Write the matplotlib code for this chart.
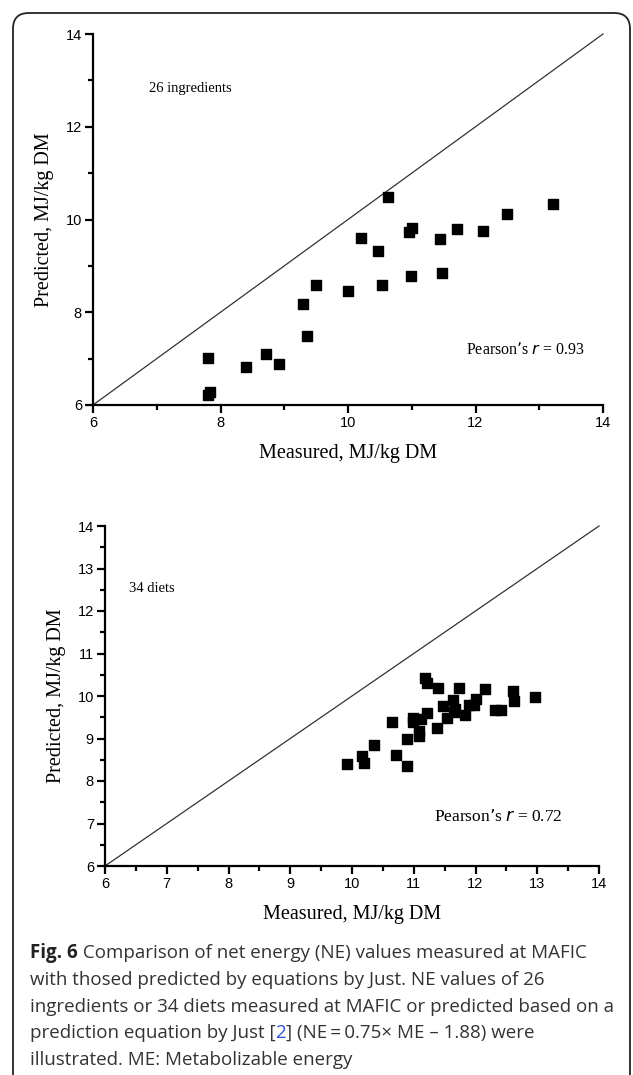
import matplotlib
matplotlib.use("Agg")
import matplotlib.pyplot as plt
from matplotlib.patches import FancyBboxPatch
from matplotlib.ticker import MultipleLocator

# 26 ingredients: measured vs predicted NE (MJ/kg DM)
ing_measured = [7.81, 7.80, 7.83, 8.40, 8.71, 8.92, 9.30, 9.36, 9.50, 10.00, 10.21, 10.62,
                10.47, 11.01, 10.96, 11.45, 11.71, 12.11, 12.50, 13.22, 10.54, 10.99, 11.48]
ing_predicted = [7.01, 6.22, 6.27, 6.81, 7.11, 6.88, 8.18, 7.49, 8.59, 8.46, 9.61, 10.49,
                 9.31, 9.82, 9.72, 9.59, 9.80, 9.76, 10.12, 10.33, 8.59, 8.79, 8.85]

# 34 diets
diet_measured = [9.92, 10.20, 10.17, 10.35, 10.72, 10.89, 10.65, 10.89, 11.09, 11.08, 10.98, 10.98,
                 11.12, 11.21, 11.38, 11.47, 11.54, 11.63, 11.65, 11.67, 11.83, 11.74, 11.90,
                 12.00, 11.98, 12.15, 12.32, 12.41, 12.60, 12.63, 12.96, 11.19, 11.21, 11.40]
diet_predicted = [8.40, 8.42, 8.60, 8.84, 8.62, 8.36, 9.40, 8.99, 9.05, 9.17, 9.40, 9.48,
                  9.46, 9.60, 9.25, 9.76, 9.48, 9.91, 9.63, 9.70, 9.56, 10.18, 9.80,
                  9.94, 9.78, 10.16, 9.68, 9.68, 10.11, 9.88, 9.98, 10.42, 10.30, 10.18]

diag = [6, 14]

SERIF = "Liberation Serif"
SANS = "Liberation Sans"

fig = plt.figure(figsize=(6.33, 10.75), dpi=100)

# rounded frame around the figure panel
frame = FancyBboxPatch((13 / 633, -0.05), (630 - 13) / 633, (1075 - 13) / 1075 + 0.05,
                       boxstyle="round,pad=0,rounding_size=0.025", transform=fig.transFigure,
                       fill=False, edgecolor="#222222", linewidth=1.3, mutation_aspect=633 / 1075)
fig.patches.append(frame)


def style_axes(ax, major, minor):
    ax.set_xlim(6, 14)
    ax.set_ylim(6, 14)
    for s in ("top", "right"):
        ax.spines[s].set_visible(False)
    for s in ("left", "bottom"):
        ax.spines[s].set_linewidth(1.6)
    ax.xaxis.set_major_locator(MultipleLocator(major))
    ax.yaxis.set_major_locator(MultipleLocator(major))
    ax.xaxis.set_minor_locator(MultipleLocator(minor))
    ax.yaxis.set_minor_locator(MultipleLocator(minor))
    ax.tick_params(which="major", direction="out", length=6, width=1.6, labelsize=10.5, pad=2)
    ax.tick_params(which="minor", direction="out", length=3.5, width=1.6)
    for lab in ax.get_xticklabels() + ax.get_yticklabels():
        lab.set_family(SANS)
    ax.set_xlabel("Measured, MJ/kg DM", family=SERIF, fontsize=14.5, labelpad=10)
    ax.set_ylabel("Predicted, MJ/kg DM", family=SERIF, fontsize=14.5, labelpad=8)
    ax.plot(diag, diag, color="#333333", linewidth=0.9, clip_on=False)


# top panel
ax1 = fig.add_axes([93 / 633, 1 - 405 / 1075, (603 - 93) / 633, (405 - 34) / 1075])
style_axes(ax1, 2, 1)
ax1.scatter(ing_measured, ing_predicted, marker="s", s=60, color="black", zorder=3)
ax1.text(7.52, 12.83, "26 ingredients", family=SERIF, fontsize=10.5, ha="center", va="center")
ax1.text(11.85, 7.19, "Pearson\u2019s $\\it{r}$ = 0.93", family=SERIF, fontsize=11.5,
         ha="left", va="center")

# bottom panel
ax2 = fig.add_axes([105 / 633, 1 - 866 / 1075, (599 - 105) / 633, (866 - 526) / 1075])
style_axes(ax2, 1, 0.5)
ax2.scatter(diet_measured, diet_predicted, marker="s", s=60, color="black", zorder=3)
ax2.text(6.76, 12.54, "34 diets", family=SERIF, fontsize=10.5, ha="center", va="center")
ax2.text(11.33, 7.15, "Pearson\u2019s $\\it{r}$ = 0.72", family=SERIF, fontsize=12.5,
         ha="left", va="center")

# caption
cap_font = ["Open Sans", "DejaVu Sans"]
cap_size = 13.5
cap_color = "#333333"
cap_y = [953, 980, 1006.5, 1033, 1060]
x0 = 30 / 633


def fy(py):
    return 1 - py / 1075


def put_after(prev, s, y, **kw):
    fig.canvas.draw()
    x = prev.get_window_extent().x1 / fig.bbox.width
    return fig.text(x, y, s, family=cap_font, fontsize=cap_size, va="center", **kw)


t = fig.text(x0, fy(cap_y[0]), "Fig. 6", family=cap_font, fontsize=cap_size,
             fontweight="bold", color="#222222", va="center")
put_after(t, " Comparison of net energy (NE) values measured at MAFIC", fy(cap_y[0]),
          color=cap_color)
fig.text(x0, fy(cap_y[1]), "with thosed predicted by equations by Just. NE values of 26",
         family=cap_font, fontsize=cap_size, color=cap_color, va="center")
fig.text(x0, fy(cap_y[2]), "ingredients or 34 diets measured at MAFIC or predicted based on a",
         family=cap_font, fontsize=cap_size, color=cap_color, va="center")
t1 = fig.text(x0, fy(cap_y[3]), "prediction equation by Just [", family=cap_font,
              fontsize=cap_size, color=cap_color, va="center")
t2 = put_after(t1, "2", fy(cap_y[3]), color="#2b4fd6")
put_after(t2, "] (NE\u2009=\u20090.75\u00d7 ME \u2013 1.88) were", fy(cap_y[3]), color=cap_color)
fig.text(x0, fy(cap_y[4]), "illustrated. ME: Metabolizable energy", family=cap_font,
         fontsize=cap_size, color=cap_color, va="center")

fig.savefig("out.png", dpi=100)
